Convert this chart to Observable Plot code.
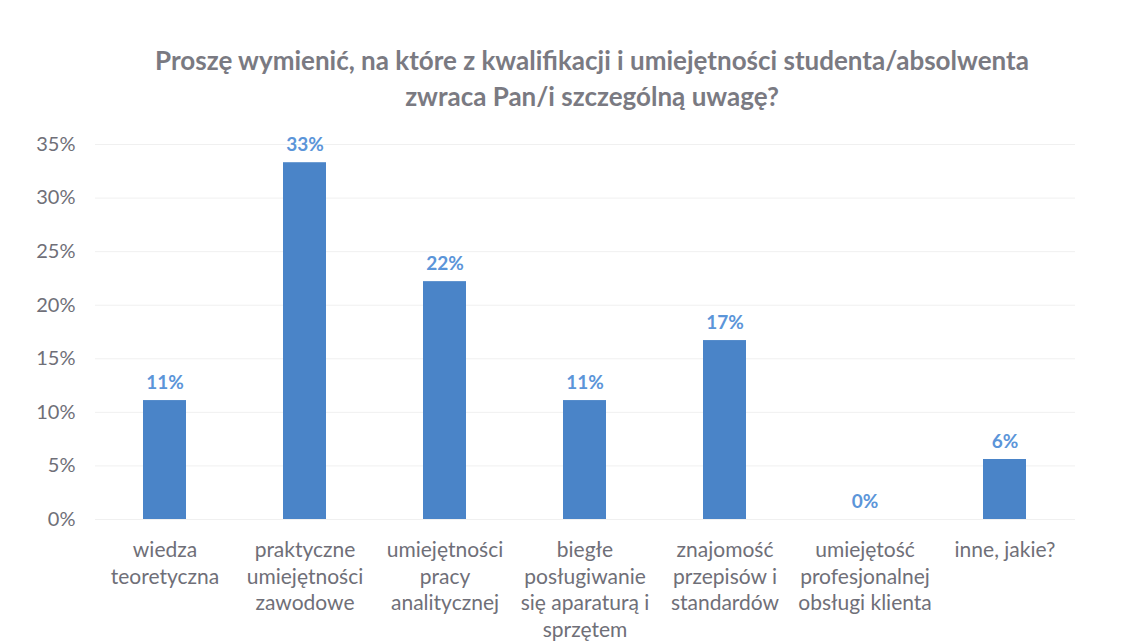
<!DOCTYPE html>
<html>
<head>
<meta charset="utf-8">
<script src="https://cdn.jsdelivr.net/npm/d3@7"></script>
<script src="https://cdn.jsdelivr.net/npm/@observablehq/plot@0.6"></script>
<style>
  html, body { margin: 0; padding: 0; background: #ffffff; }
  #wrap { width: 1134px; height: 643px; overflow: hidden; }
  #title {
    height: 125px; box-sizing: border-box; padding-top: 42px;
    font-family: Lato, "Open Sans", sans-serif; font-weight: bold;
    font-size: 26px; line-height: 36px; color: #7a7a82; text-align: center;
    padding-left: 50px; white-space: nowrap;
  }
</style>
</head>
<body>
<div id="wrap">
  <div id="title">Proszę wymienić, na które z kwalifikacji i umiejętności studenta/absolwenta<br>zwraca Pan/i szczególną uwagę?</div>
  <div id="chart"></div>
</div>
<script>
const categories = [
  "wiedza\nteoretyczna",
  "praktyczne\numiejętności\nzawodowe",
  "umiejętności\npracy\nanalitycznej",
  "biegłe\nposługiwanie\nsię aparaturą i\nsprzętem",
  "znajomość\nprzepisów i\nstandardów",
  "umiejętość\nprofesjonalnej\nobsługi klienta",
  "inne, jakie?"
];
const values = [11.1, 33.3, 22.2, 11.1, 16.7, 0, 5.6];
const yTicks = [0, 5, 10, 15, 20, 25, 30, 35];

const data = categories.map((c, i) => ({category: c, value: values[i]}));

const chart = Plot.plot({
  width: 1134,
  height: 518,
  marginLeft: 95,
  marginRight: 59,
  marginTop: 19,
  marginBottom: 124,
  style: {fontFamily: "Lato, 'Open Sans', sans-serif", fontSize: "20px", background: "#ffffff"},
  x: {domain: categories, paddingInner: 0.69, paddingOuter: 0.345},
  y: {domain: [0, 35]},
  marks: [
    Plot.gridY(yTicks, {stroke: "#f0f0f0", strokeOpacity: 1}),
    Plot.barY(data, {x: "category", y: "value", fill: "#4a84c8"}),
    Plot.text(data, {
      x: "category", y: "value",
      text: d => Math.round(d.value) + "%",
      lineAnchor: "bottom", dy: -12,
      fill: "#5b95d9", fontWeight: "bold", fontSize: 19
    }),
    Plot.axisY(yTicks, {
      tickSize: 0, tickPadding: 20,
      tickFormat: d => d + "%",
      fontSize: 20, fill: "#6f6f78", label: null
    }),
    Plot.axisX({
      tickSize: 0, tickPadding: 19,
      fontSize: 21, fill: "#6f6f78", lineHeight: 1.26, label: null
    })
  ]
});
document.getElementById("chart").appendChild(chart);
</script>
</body>
</html>
